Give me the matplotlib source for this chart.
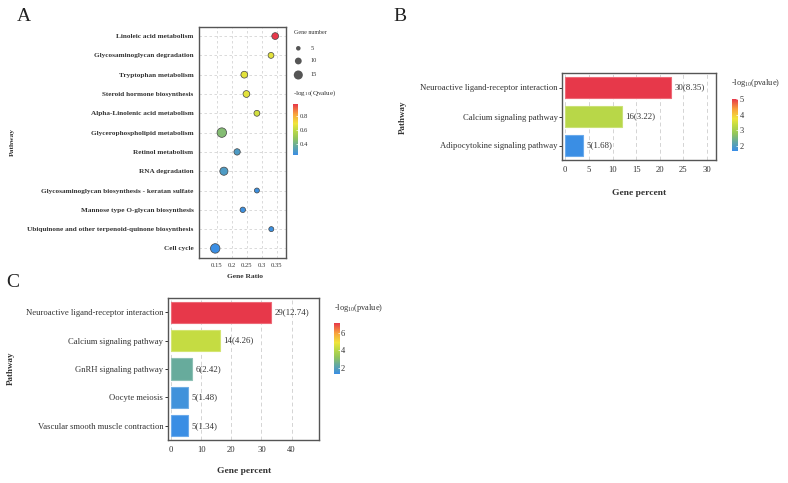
import matplotlib
matplotlib.use("Agg")
import matplotlib.pyplot as plt
from matplotlib.colors import LinearSegmentedColormap, Normalize
import numpy as np

plt.rcParams['font.family'] = ['Liberation Serif', 'DejaVu Serif']
plt.rcParams['mathtext.fontset'] = 'custom'
plt.rcParams['mathtext.rm'] = 'Liberation Serif'
plt.rcParams['mathtext.it'] = 'Liberation Serif:italic'
plt.rcParams['mathtext.bf'] = 'Liberation Serif:bold'

# ---------------- data ----------------
# Panel A (KEGG bubble chart)
a_pathways = ["Linoleic acid metabolism", "Glycosaminoglycan degradation",
              "Tryptophan metabolism", "Steroid hormone biosynthesis",
              "Alpha-Linolenic acid metabolism", "Glycerophospholipid metabolism",
              "Retinol metabolism", "RNA degradation",
              "Glycosaminoglycan biosynthesis - keratan sulfate",
              "Mannose type O-glycan biosynthesis",
              "Ubiquinone and other terpenoid-quinone biosynthesis", "Cell cycle"]
a_ratio = [0.345, 0.331, 0.242, 0.249, 0.284, 0.167, 0.218, 0.174, 0.284, 0.237, 0.332, 0.145]
a_genes = [10, 8, 10, 10, 8, 16, 9, 13, 6, 7, 6, 16]
a_qval = [0.97, 0.67, 0.67, 0.67, 0.64, 0.45, 0.31, 0.31, 0.26, 0.26, 0.26, 0.25]
a_size_legend = [5, 10, 15]
a_xticks = [0.15, 0.2, 0.25, 0.3, 0.35]
a_xticklabels = ["0.15", "0.2", "0.25", "0.3", "0.35"]

# Panel B
b_pathways = ["Neuroactive ligand-receptor interaction", "Calcium signaling pathway",
              "Adipocytokine signaling pathway"]
b_percent = [22.39, 11.94, 3.73]
b_count = [30, 16, 5]
b_pval = [8.35, 3.22, 1.68]
b_xticks = [0, 5, 10, 15, 20, 25, 30]
b_cbar_ticks = [2, 3, 4, 5]

# Panel C
c_pathways = ["Neuroactive ligand-receptor interaction", "Calcium signaling pathway",
              "GnRH signaling pathway", "Oocyte meiosis",
              "Vascular smooth muscle contraction"]
c_percent = [33.33, 16.09, 6.90, 5.75, 5.75]
c_count = [29, 14, 6, 5, 5]
c_pval = [12.74, 4.26, 2.42, 1.48, 1.34]
c_xticks = [0, 10, 20, 30, 40]
c_cbar_ticks = [2, 4, 6]

# ---------------- style ----------------
cmap = LinearSegmentedColormap.from_list(
    "enr", [(0.0, '#3A8EE4'), (0.18, '#66AA9E'), (0.33, '#93C65C'),
            (0.5, '#C3DC42'), (0.62, '#F0E43A'), (0.8, '#F8A43C'),
            (1.0, '#E7384A')])
SPINE = '#555555'
GRID = '#d4d4d4'
TXT = '#333333'

W, H = 788, 483
fig = plt.figure(figsize=(W / 100, H / 100), dpi=100)


def rect(x0, y0, x1, y1):
    return [x0 / W, 1 - y1 / H, (x1 - x0) / W, (y1 - y0) / H]


def style_spines(ax):
    for s in ax.spines.values():
        s.set_color(SPINE)
        s.set_linewidth(1.0)


def diam_to_s(n):
    d_px = 2.3 + 0.45 * np.asarray(n, dtype=float)
    return (d_px * 0.72) ** 2


# ---------------- Panel A ----------------
axA = fig.add_axes(rect(199, 27, 286, 257.5))
ya = np.arange(len(a_pathways))
normA = Normalize(vmin=min(a_qval), vmax=max(a_qval))
axA.set_axisbelow(True)
axA.grid(True, color=GRID, linestyle=(0, (3, 3)), linewidth=0.6)
axA.scatter(a_ratio, ya, s=diam_to_s(a_genes), c=a_qval, cmap=cmap, norm=normA,
            edgecolors='#444444', linewidths=0.5, zorder=3)
axA.set_ylim(len(a_pathways) - 0.53, -0.47)
axA.set_xlim(0.091, 0.381)
axA.set_yticks(ya)
axA.set_yticklabels(a_pathways, fontsize=5.2, fontweight='bold', color=TXT)
axA.set_xticks(a_xticks)
axA.set_xticklabels(a_xticklabels, fontsize=4.8, color=TXT)
axA.tick_params(axis='both', length=0)
axA.tick_params(axis='y', pad=4)
axA.tick_params(axis='x', pad=4)
style_spines(axA)
fig.text(245 / W, 1 - 277 / H, "Gene Ratio", fontsize=5.4, fontweight='bold',
         ha='center', va='center', color=TXT)
fig.text(12 / W, 1 - 142 / H, "Pathway", fontsize=5.4, fontweight='bold',
         ha='center', va='center', rotation=90, color=TXT)

# size legend
fig.text(294 / W, 1 - 32 / H, "Gene number", fontsize=4.3, ha='left', va='center', color=TXT)
axL = fig.add_axes(rect(290, 40, 330, 82))
axL.set_xlim(290, 330)
axL.set_ylim(82, 40)
axL.axis('off')
for n, yy in zip(a_size_legend, [48.3, 61, 75]):
    axL.scatter([298.3], [yy], s=diam_to_s([n]), color='#555555', edgecolors='none')
    axL.text(310.5, yy, str(n), fontsize=4.6, va='center', ha='left', color=TXT)

fig.text(293 / W, 1 - 93 / H, "-log$_{10}$(Qvalue)", fontsize=5.1, ha='left',
         va='center', color=TXT)
caxA = fig.add_axes(rect(293, 104, 298, 155))
cbA = fig.colorbar(plt.cm.ScalarMappable(norm=normA, cmap=cmap), cax=caxA)
cbA.set_ticks([0.4, 0.6, 0.8])
cbA.set_ticklabels(["0.4", "0.6", "0.8"])
cbA.outline.set_visible(False)
caxA.tick_params(labelsize=4.8, length=1.5, color='white', width=0.5, pad=1,
                 labelcolor=TXT, direction='in')


# ---------------- bar panels ----------------
def bar_panel(box, pathways, percent, count, pval, vmin, vmax, xlim, xticks,
              cbox, cticks, title_xy, xlabel_xy, ylabel_xy):
    ax = fig.add_axes(rect(*box))
    norm = Normalize(vmin=vmin, vmax=vmax, clip=True)
    cols = cmap(norm(np.asarray(pval)))
    y = np.arange(len(pathways))
    ax.set_axisbelow(True)
    ax.grid(True, axis='x', color=GRID, linestyle=(0, (4, 3)), linewidth=0.7)
    edge = [tuple(np.clip(np.array(c[:3]) * 0.75 + 0.25, 0, 1)) for c in cols]
    ax.barh(y, percent, height=0.74, color=cols, edgecolor=edge, linewidth=0.8, zorder=3)
    for yy, p, n, v in zip(y, percent, count, pval):
        ax.annotate(f"{n}({v:.2f})", (p, yy), xytext=(2.5, 0), textcoords='offset points',
                    fontsize=6.4, va='center', ha='left', color=TXT)
    ax.set_ylim(len(pathways) - 0.5, -0.5)
    ax.set_xlim(*xlim)
    ax.set_yticks(y)
    ax.set_yticklabels(pathways, fontsize=6.2, color=TXT)
    ax.set_xticks(xticks)
    ax.set_xticklabels([str(t) for t in xticks], fontsize=6.2, color=TXT)
    ax.tick_params(axis='y', length=2.2, width=0.7, color='#333333', pad=1)
    ax.tick_params(axis='x', length=0, pad=4)
    style_spines(ax)
    fig.text(xlabel_xy[0] / W, 1 - xlabel_xy[1] / H, "Gene percent", fontsize=6.8,
             fontweight='bold', ha='center', va='center', color=TXT)
    fig.text(ylabel_xy[0] / W, 1 - ylabel_xy[1] / H, "Pathway", fontsize=6.5,
             fontweight='bold', ha='center', va='center', rotation=90, color=TXT)
    fig.text(title_xy[0] / W, 1 - title_xy[1] / H, "-log$_{10}$(pvalue)", fontsize=6.0,
             ha='left', va='center', color=TXT)
    cax = fig.add_axes(rect(*cbox))
    cb = fig.colorbar(plt.cm.ScalarMappable(norm=Normalize(vmin=vmin, vmax=vmax), cmap=cmap),
                      cax=cax)
    cb.set_ticks(cticks)
    cb.set_ticklabels([str(t) for t in cticks])
    cb.outline.set_visible(False)
    cax.tick_params(labelsize=6.0, length=1.5, color='white', width=0.5, pad=1,
                    labelcolor=TXT, direction='in')
    return ax


bar_panel((562, 73, 716, 160), b_pathways, b_percent, b_count, b_pval,
          min(b_pval), 5.0, (-0.7, 31.9), b_xticks,
          (732, 99, 738, 150.7), b_cbar_ticks, (731, 83), (639, 193), (403, 117))

bar_panel((167.7, 298, 319.3, 440), c_pathways, c_percent, c_count, c_pval,
          min(c_pval), 7.1, (-1.1, 49.2), c_xticks,
          (334, 323, 339.5, 374), c_cbar_ticks, (334, 308), (244, 471), (11, 368))

# panel letters
fig.text(17 / W, 1 - 21 / H, "A", fontsize=14, ha='left', va='baseline', color='#222222')
fig.text(393 / W, 1 - 21 / H, "B", fontsize=14, ha='left', va='baseline', color='#222222')
fig.text(6 / W, 1 - 287 / H, "C", fontsize=14, ha='left', va='baseline', color='#222222')

fig.savefig("out.png", dpi=100)
